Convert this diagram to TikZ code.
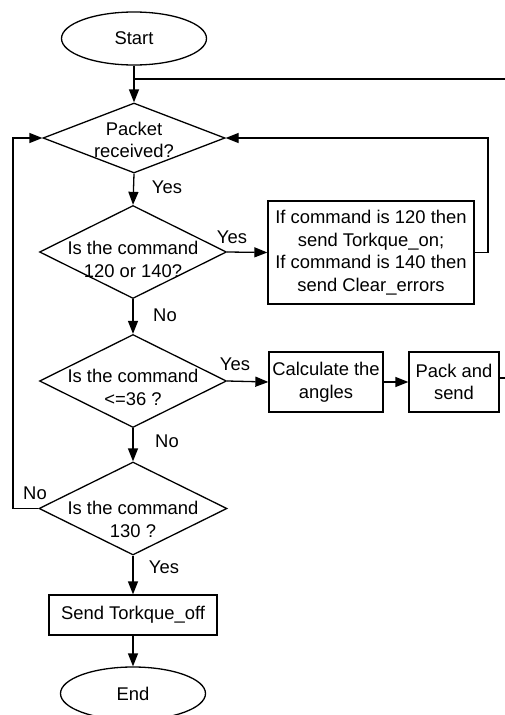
\documentclass[tikz,border=0pt]{standalone}
\usepackage{fontspec}
\setmainfont{Liberation Sans}
\usetikzlibrary{shapes.geometric,arrows.meta}
\begin{document}
\begin{tikzpicture}[x=1pt,y=-1pt,
  line width=1.3pt,
  every node/.style={font=\fontsize{18.4}{22.5}\selectfont},
  arr/.style={-{Triangle[length=13pt,width=10pt]}},
  dia/.style={draw,shape=diamond,inner sep=0pt,minimum width=#1,minimum height=93pt},
  dia/.default=187pt,
  box/.style={draw,rectangle,inner sep=0pt,align=center},
  term/.style={draw,ellipse,inner sep=0pt,minimum width=145pt,minimum height=53pt},
  lbl/.style={inner sep=0pt,align=center}]
\useasboundingbox (0,0) rectangle (505,715);

% terminals
\node[term] (start) at (134,38.5) {Start};
\node[term] (end) at (133,693.5) {End};

% decisions
\node[dia=182pt,minimum height=70pt] (d1) at (134,138) {};
\node[lbl] (d1t) at (134,140) {Packet\\received?};
\node[dia] (d2) at (133,252) {};
\node[lbl] (d2t) at (133,259.5) {Is the command\\120 or 140?};
\node[dia] (d3) at (133,381) {};
\node[lbl] (d3t) at (133,387.5) {Is the command\\<=36 ?};
\node[dia=188pt] (d4) at (133,508.5) {};
\node[lbl] (d4t) at (133,519.5) {Is the command\\130 ?};

% process boxes
\node[box,minimum width=206pt,minimum height=103pt] (b1) at (371,252.5)
  {If command is 120 then\\send Torkque\_on;\\If command is 140 then\\send Clear\_errors};
\node[box,minimum width=114pt,minimum height=60pt] (calc) at (326,382) {Calculate the\\angles};
\node[box,minimum width=90pt,minimum height=60pt] (pack) at (454,382) {Pack and\\send};
\node[box,minimum width=168pt,minimum height=40pt] (toff) at (133,615) {Send Torkque\_off};

% coordinates
\coordinate (j1) at (134,79);
\coordinate (e1) at (506,79);
\coordinate (e2) at (506,378);
\coordinate (rloop) at (488,138);
\coordinate (lloop) at (13,138);

% connectors
\draw[arr] (start.south) -- (d1.north);
\draw (e1) -- (j1);
\draw[arr] (d1.south) -- (d2.north);
\draw[arr] (d2.east) -- (b1.west);
\draw[arr] (b1.east) -| (rloop) -- (d1.east);
\draw[arr] (d2.south) -- (d3.north);
\draw[arr] (d3.east) -- (calc.west);
\draw[arr] (calc.east) -- (pack.west);
\draw (pack.east |- e2) -- (e2);
\draw[arr] (d3.south) -- (d4.north);
\draw[arr] (d4.west) -| (lloop) -- (d1.west);
\draw[arr] (d4.south) -- (toff.north);
\draw[arr] (toff.south) -- (end.north);

% labels
\node[lbl] (y1) at (167,187) {Yes};
\node[lbl] (y2) at (232,237) {Yes};
\node[lbl] (n2) at (165,315) {No};
\node[lbl] (y3) at (235,364) {Yes};
\node[lbl] (n3) at (167,441) {No};
\node[lbl] (n4) at (35,493) {No};
\node[lbl] (y4) at (164,567) {Yes};
\end{tikzpicture}
\end{document}
